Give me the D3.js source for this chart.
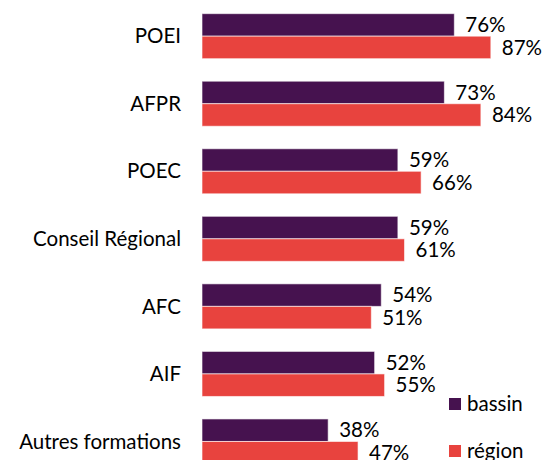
<!DOCTYPE html>
<html lang="fr">
	<head>
		<meta charset="utf-8">
		<title>bassin / région</title>
		<script src="https://d3js.org/d3.v7.min.js"></script>
		<style type="text/css">
			body {
				margin: 0;
				background: #fff;
			}
			text {
				font-family: Lato, "Open Sans", sans-serif;
				font-size: 20.5px;
				fill: #000;
			}
		</style>
	</head>
	<body>
		<script type="text/javascript">
			// Width and height
			var w = 543;
			var h = 460;

			// Data
			var categories = ["POEI", "AFPR", "POEC", "Conseil Régional", "AFC", "AIF", "Autres formations"];
			var bassin = [76, 73, 59, 59, 54, 52, 38];
			var region = [87, 84, 66, 61, 51, 55, 47];
			var seriesNames = ["bassin", "région"];

			var colors = d3.scaleOrdinal()
				.domain(seriesNames)
				.range(["#46124f", "#e8433e"]);

			var dataset = categories.map(function(c, i) {
				return { cat: c, values: [bassin[i], region[i]] };
			});

			// Scales
			var xScale = d3.scaleLinear()
				.domain([0, 100])
				.range([202, 534]);

			// band layout: group step ~67.5px, 7 groups, last group clipped at bottom
			var yScale = d3.scaleBand()
				.domain(categories)
				.range([2.4, 2.4 + 7 * 67.55])
				.paddingInner(1 / 3)
				.paddingOuter(1 / 6);

			var ySub = d3.scaleBand()
				.domain(d3.range(2))
				.range([0, yScale.bandwidth()]);

			var svg = d3.select("body")
						.append("svg")
						.attr("width", w)
						.attr("height", h);

			// Category labels
			svg.selectAll("text.cat")
				.data(categories)
				.enter()
				.append("text")
				.attr("class", "cat")
				.attr("x", 181)
				.attr("y", function(d) { return yScale(d) + yScale.bandwidth() / 2; })
				.attr("dy", ".35em")
				.attr("text-anchor", "end")
				.text(function(d) { return d; });

			// Groups
			var groups = svg.selectAll("g.group")
				.data(dataset)
				.enter()
				.append("g")
				.attr("class", "group")
				.attr("transform", function(d) {
					return "translate(0," + yScale(d.cat) + ")";
				});

			groups.selectAll("rect")
				.data(function(d) { return d.values; })
				.enter()
				.append("rect")
				.attr("x", xScale(0))
				.attr("y", function(d, i) { return ySub(i); })
				.attr("width", function(d) { return xScale(d) - xScale(0); })
				.attr("height", ySub.bandwidth())
				.attr("fill", function(d, i) { return colors(seriesNames[i]); })
				.attr("stroke", "#fff")
				.attr("stroke-opacity", 0.6)
				.attr("stroke-width", 1);

			// Value labels
			groups.selectAll("text.val")
				.data(function(d) { return d.values; })
				.enter()
				.append("text")
				.attr("class", "val")
				.attr("x", function(d) { return xScale(d) + 11; })
				.attr("y", function(d, i) { return ySub(i) + ySub.bandwidth() / 2; })
				.attr("dy", ".35em")
				.text(function(d) { return d + "%"; });

			// Legend
			var legend = svg.selectAll("g.legend")
				.data(seriesNames)
				.enter()
				.append("g")
				.attr("class", "legend")
				.attr("transform", function(d, i) {
					return "translate(449," + (398 + i * 47) + ")";
				});

			legend.append("rect")
				.attr("width", 12)
				.attr("height", 12)
				.attr("fill", function(d) { return colors(d); });

			legend.append("text")
				.attr("x", 18)
				.attr("y", 6)
				.attr("dy", ".35em")
				.text(function(d) { return d; });
		</script>
	</body>
</html>
